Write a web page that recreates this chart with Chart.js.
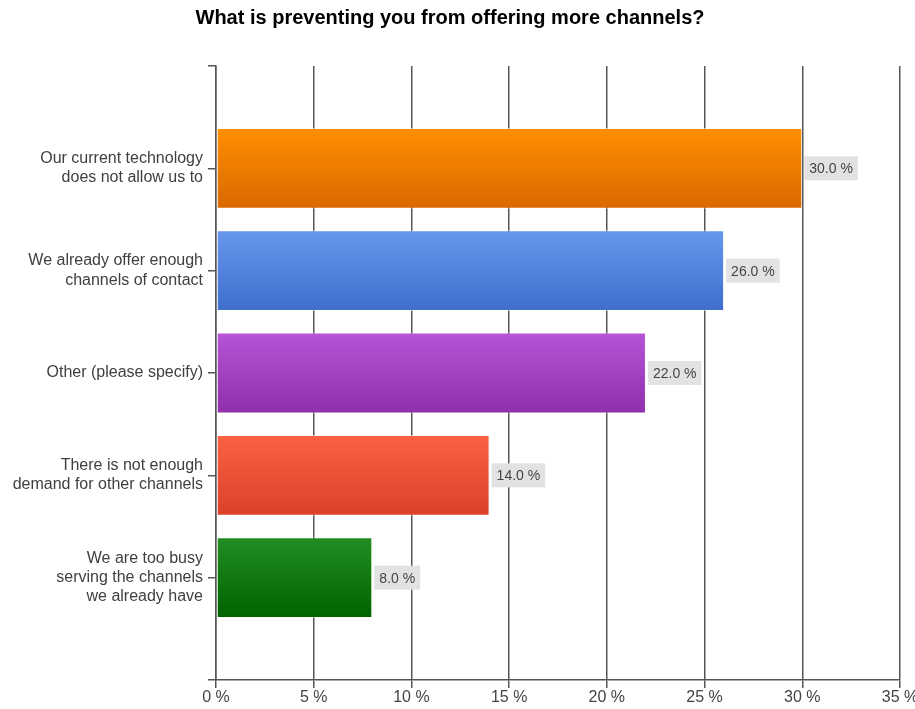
<!DOCTYPE html>
<html>
<head>
<meta charset="utf-8">
<script src="https://cdn.jsdelivr.net/npm/chart.js@4"></script>
<style>
  html, body { margin: 0; padding: 0; background: #fff; }
  #wrap { width: 915px; height: 709px; }
</style>
</head>
<body>
<div id="wrap"><canvas id="chart" width="915" height="709"></canvas></div>
<script>
// blank slots at top and bottom keep the empty band above the first bar and below the last one
const answers = [
    '',
    ['Our current technology', 'does not allow us to'],
    ['We already offer enough', 'channels of contact'],
    'Other (please specify)',
    ['There is not enough', 'demand for other channels'],
    ['We are too busy', 'serving the channels', 'we already have'],
    ''
];
const shares = [null, 30.0, 26.0, 22.0, 14.0, 8.0, null];
const topColors = [null, '#ff8f00', '#6697ec', '#b754d6', '#fa6242', '#228c22', null];
const bottomColors = [null, '#da6800', '#3f6ecd', '#8f2fab', '#d9412a', '#006400', null];
const xTicks = [0, 5, 10, 15, 20, 25, 30, 35];

function barGradient(context) {
    const i = context.dataIndex;
    const chart = context.chart;
    if (!chart.chartArea || topColors[i] == null) return topColors[i] || '#888';
    const y = chart.scales.y;
    const mid = y.getPixelForValue(i);
    const g = chart.ctx.createLinearGradient(0, mid - 40, 0, mid + 40);
    g.addColorStop(0, topColors[i]);
    g.addColorStop(1, bottomColors[i]);
    return g;
}

// grey value boxes right of each bar
const valueBoxes = {
    id: 'valueBoxes',
    afterDatasetsDraw(chart) {
        const ctx = chart.ctx;
        const meta = chart.getDatasetMeta(0);
        ctx.save();
        ctx.font = '14px "Liberation Sans", Arial, sans-serif';
        ctx.textBaseline = 'middle';
        meta.data.forEach((bar, i) => {
            if (shares[i] == null) return;
            const text = shares[i].toFixed(1) + ' %';
            const w = ctx.measureText(text).width + 10;
            const x = bar.x + 2;
            ctx.fillStyle = '#e2e2e2';
            ctx.fillRect(x, bar.y - 12, w, 24);
            ctx.fillStyle = '#444';
            ctx.fillText(text, x + 5, bar.y + 1);
        });
        ctx.restore();
    }
};

const ctx = document.getElementById('chart').getContext('2d');
new Chart(ctx, {
    type: 'bar',
    data: {
        labels: answers,
        datasets: [{
            data: shares,
            backgroundColor: barGradient,
            borderColor: 'rgba(255,255,255,0.5)',
            borderWidth: 1,
            borderSkipped: false,
            barPercentage: 0.79,
            categoryPercentage: 1
        }]
    },
    options: {
        indexAxis: 'y',
        responsive: false,
        animation: false,
        layout: { padding: { left: 0, right: 15, top: 0, bottom: 0 } },
        plugins: {
            legend: { display: false },
            tooltip: { enabled: false },
            title: {
                display: true,
                text: 'What is preventing you from offering more channels?',
                color: '#000',
                font: { family: '"Liberation Sans", Arial, sans-serif', size: 20, weight: 'bold' },
                padding: { top: 6, bottom: 36 }
            }
        },
        scales: {
            x: {
                min: 0,
                max: 35,
                afterBuildTicks: s => { s.ticks = xTicks.map(v => ({ value: v })); },
                afterFit: s => { s.height = 29; s.paddingRight = 0; s.paddingLeft = 0; },
                grid: { color: '#555', lineWidth: 1.5, tickLength: 8 },
                border: { color: '#555', width: 1.5 },
                ticks: {
                    color: '#444',
                    padding: 0,
                    font: { family: '"Liberation Sans", Arial, sans-serif', size: 16 },
                    callback: v => v + ' %'
                }
            },
            y: {
                offset: false,
                afterFit: s => { s.width = 216; },
                grid: { offset: false, drawOnChartArea: false, color: '#555', lineWidth: 1.5, tickLength: 8 },
                border: { color: '#555', width: 1.5 },
                ticks: {
                    color: '#404040',
                    padding: 5,
                    autoSkip: false,
                    font: { family: '"Liberation Sans", Arial, sans-serif', size: 16, lineHeight: 1.2 }
                }
            }
        }
    },
    plugins: [valueBoxes]
});
</script>
</body>
</html>
